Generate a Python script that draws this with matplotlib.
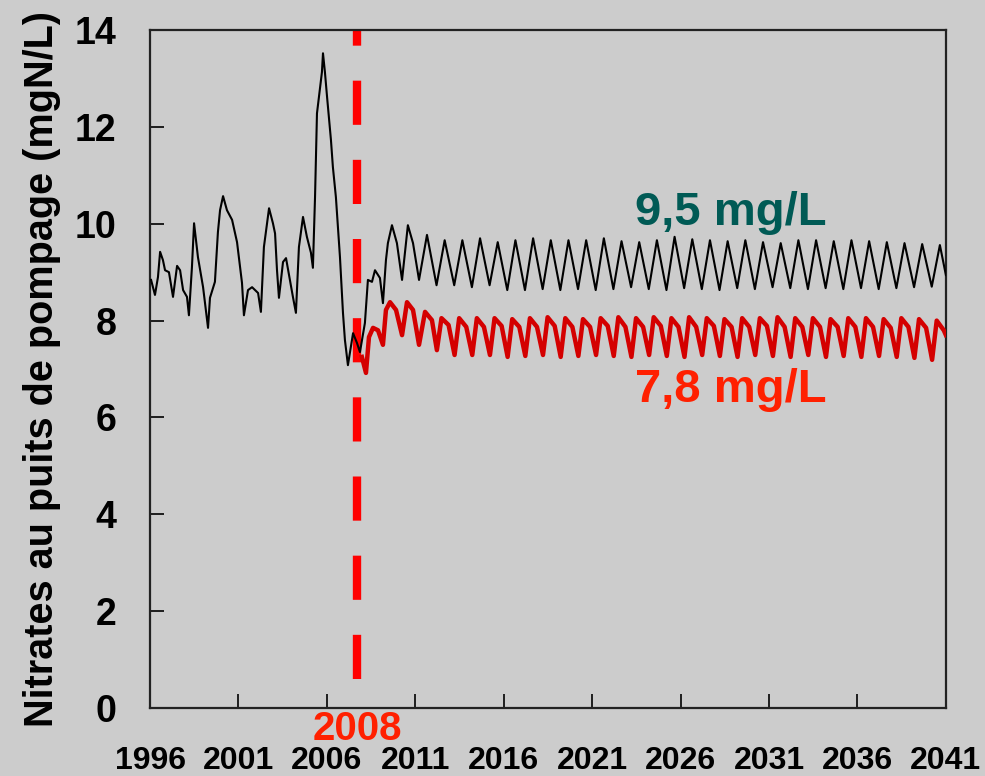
#Nitrates at the pumping well: historical series, baseline scenario and 2008 scenario
import numpy as np
import matplotlib.pyplot as plt

plt.rcParams['font.family'] = ['Liberation Sans', 'DejaVu Sans']
plt.rcParams['font.weight'] = 'bold'

# historical part of the black curve (year, mgN/L)
hist_years = [1996.06, 1996.28, 1996.45, 1996.57, 1996.73, 1996.85, 1997.07, 1997.30, 1997.53, 1997.70,
              1997.87, 1998.09, 1998.20, 1998.37, 1998.49, 1998.71, 1999.00, 1999.28, 1999.39, 1999.67,
              1999.84, 1999.96, 2000.13, 2000.35, 2000.64, 2000.92, 2001.20, 2001.31, 2001.54, 2001.77,
              2002.11, 2002.27, 2002.44, 2002.73, 2002.95, 2003.07, 2003.18, 2003.29, 2003.52, 2003.69,
              2003.91, 2004.08, 2004.25, 2004.42, 2004.65, 2004.87, 2005.10, 2005.21, 2005.33, 2005.44,
              2005.61, 2005.72, 2005.78, 2005.89, 2006.01, 2006.23, 2006.34, 2006.51, 2006.74, 2006.91,
              2007.02, 2007.19, 2007.48, 2007.70, 2007.87, 2008.15, 2008.32, 2008.55, 2008.72, 2009.00,
              2009.17, 2009.34, 2009.45, 2009.68, 2009.96, 2010.25, 2010.58, 2010.87, 2011.21, 2011.66]
hist_vals = [8.84, 8.53, 8.90, 9.42, 9.25, 9.04, 9.00, 8.49, 9.13, 9.04,
             8.63, 8.49, 8.11, 9.10, 10.01, 9.31, 8.69, 7.85, 8.47, 8.80,
             9.83, 10.28, 10.57, 10.28, 10.08, 9.62, 8.78, 8.11, 8.63, 8.69,
             8.57, 8.18, 9.52, 10.32, 10.01, 9.80, 9.04, 8.47, 9.21, 9.29,
             8.84, 8.49, 8.16, 9.52, 10.14, 9.73, 9.40, 9.09, 10.55, 12.28,
             12.80, 13.13, 13.52, 13.13, 12.62, 11.73, 11.17, 10.55, 9.31, 8.16,
             7.60, 7.08, 7.74, 7.54, 7.35, 7.95, 8.84, 8.80, 9.04, 8.88,
             8.36, 9.25, 9.60, 9.97, 9.60, 8.84, 9.97, 9.60, 8.84, 9.77]

# yearly cycles 2012-2040 (black: baseline, red: scenario)
cycle_years = np.arange(2012, 2041)
black_troughs = [8.73, 8.73, 8.69, 8.73, 8.63, 8.63, 8.65, 8.63, 8.65, 8.63, 8.65, 8.69, 8.65, 8.63, 8.67,
                 8.65, 8.63, 8.67, 8.65, 8.69, 8.67, 8.65, 8.67, 8.65, 8.67, 8.65, 8.67, 8.69, 8.70]
black_peaks = [9.66, 9.66, 9.70, 9.62, 9.66, 9.70, 9.66, 9.66, 9.66, 9.70, 9.64, 9.62, 9.66, 9.73, 9.68,
               9.66, 9.64, 9.66, 9.62, 9.60, 9.66, 9.66, 9.64, 9.66, 9.64, 9.62, 9.60, 9.58, 9.56]
black_end = 8.94

red_start_years = [2007.98, 2008.21, 2008.38, 2008.61, 2008.89, 2009.17, 2009.34, 2009.57, 2009.91,
                   2010.25, 2010.53, 2010.87, 2011.21, 2011.55, 2011.94]
red_start_vals = [7.25, 6.92, 7.66, 7.85, 7.80, 7.50, 8.22, 8.38, 8.22,
                  7.70, 8.38, 8.22, 7.50, 8.18, 8.01]
red_troughs = [7.39, 7.29, 7.29, 7.29, 7.25, 7.27, 7.29, 7.25, 7.27, 7.29, 7.27, 7.25, 7.29, 7.27, 7.25,
               7.29, 7.27, 7.25, 7.29, 7.27, 7.25, 7.29, 7.25, 7.27, 7.25, 7.27, 7.25, 7.23, 7.19]
red_peaks = [8.05, 8.05, 8.05, 8.05, 8.03, 8.05, 8.07, 8.05, 8.03, 8.05, 8.07, 8.05, 8.07, 8.05, 8.07,
             8.05, 8.03, 8.05, 8.05, 8.07, 8.05, 8.05, 8.03, 8.05, 8.05, 8.03, 8.05, 8.03, 8.00]
red_shoulders = [7.91, 7.87, 7.87, 7.89, 7.87, 7.87, 7.89, 7.87, 7.87, 7.89, 7.87, 7.87, 7.89, 7.87, 7.87,
                 7.89, 7.87, 7.87, 7.89, 7.87, 7.87, 7.87, 7.87, 7.87, 7.87, 7.85, 7.87, 7.85, 7.80]
red_end = 7.70

scenario_year = 2007.7
xticks = [1996, 2001, 2006, 2011, 2016, 2021, 2026, 2031, 2036, 2041]
yticks = [0, 2, 4, 6, 8, 10, 12, 14]

# assemble the series
bx = list(hist_years)
by = list(hist_vals)
for yr, lo, hi in zip(cycle_years, black_troughs, black_peaks):
    bx += [yr + 0.20, yr + 0.66]
    by += [lo, hi]
bx.append(2041.0)
by.append(black_end)

rx = list(red_start_years)
ry = list(red_start_vals)
for yr, lo, hi, sh in zip(cycle_years, red_troughs, red_peaks, red_shoulders):
    rx += [yr + 0.22, yr + 0.48, yr + 0.88]
    ry += [lo, hi, sh]
rx.append(2041.0)
ry.append(red_end)

bg = '#cccccc'
fig = plt.figure(figsize=(9.85, 7.76), dpi=100, facecolor=bg)
ax = fig.add_axes([0.1523, 0.0876, 0.808, 0.8737], facecolor=bg)

ax.plot(bx, by, color='black', lw=1.5, zorder=3)
ax.plot(rx, ry, color='#d40000', lw=3.2, zorder=4)
ax.plot([scenario_year, scenario_year], [0.6, 14], color='#ff0000', lw=6,
        dashes=(5.3, 4.2), solid_capstyle='butt', dash_capstyle='butt', zorder=2)

ax.set_xlim(1996, 2041)
ax.set_ylim(0, 14)
ax.set_xticks(xticks)
ax.set_yticks(yticks)
ax.tick_params(axis='x', direction='in', length=10, width=1.2, labelsize=23, pad=27)
ax.tick_params(axis='y', direction='in', length=10, width=1.2, labelsize=27, pad=24)
for sp in ax.spines.values():
    sp.set_linewidth(1.6)
    sp.set_color('#222222')

ax.set_ylabel('Nitrates au puits de pompage (mgN/L)', fontsize=28.5, fontweight='bold', labelpad=10)

ax.text(2023.4, 9.97, '9,5 mg/L', color='#005a55', fontsize=34, fontweight='bold', ha='left', va='baseline')
ax.text(2023.4, 6.32, '7,8 mg/L', color='#ff2000', fontsize=34, fontweight='bold', ha='left', va='baseline')
ax.text(scenario_year, -0.66, '2008', color='#ff2000', fontsize=29, fontweight='bold',
        ha='center', va='baseline', clip_on=False)

fig.savefig('out.png', dpi=100, facecolor=bg)
